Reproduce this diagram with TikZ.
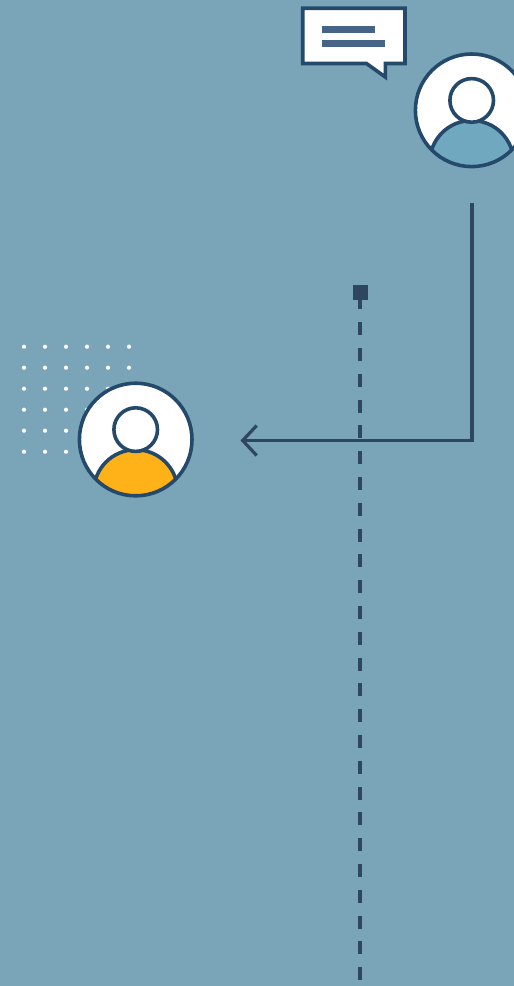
\documentclass[tikz,border=0pt]{standalone}
\usepackage{xcolor}
\usepackage{tikz}
\usetikzlibrary{positioning,arrows.meta}
\definecolor{bgblue}{HTML}{7AA5B9}
\definecolor{ringblue}{HTML}{25496A}
\definecolor{linedark}{HTML}{2F4660}
\definecolor{barblue}{HTML}{466485}
\definecolor{bodyteal}{HTML}{6FA8BF}
\definecolor{bodyyellow}{HTML}{FFB218}
\tikzset{
  ringline/.style={draw=ringblue, line width=3.6pt},
  flowline/.style={draw=linedark, line width=3.2pt},
  squaremark/.style={fill=linedark, minimum size=15pt, inner sep=0pt, outer sep=0pt},
  bubblebar/.style={fill=barblue, draw=none},
}

\begin{document}
\begin{tikzpicture}[x=1pt, y=-1pt]
  % Background
  \fill[bgblue] (0,0) rectangle (514,986);
  \useasboundingbox (0,0) rectangle (514,986);
  \clip (0,0) rectangle (514,986);

  % Dot grid
  \foreach \x in {24,45,66,87,108,129} {
    \foreach \y in {346.7,367.7,388.7,409.7,430.7,451.7} {
      \fill[white] (\x,\y) circle (2.1pt);
    }
  }

  % Avatars
  \foreach \cx/\cy/\bodycol in {471.7/110.3/bodyteal, 135.7/439.5/bodyyellow} {
    \fill[white] (\cx,\cy) circle (56.3pt);
    \begin{scope}
      \clip (\cx,\cy) circle (56.3pt);
      \draw[ringline, fill=\bodycol] (\cx,\cy+52.2) circle (42pt);
    \end{scope}
    \draw[ringline, fill=white] (\cx,\cy-9.9) circle (21.8pt);
    \draw[ringline] (\cx,\cy) circle (56.3pt);
  }

  % Speech bubble
  \draw[ringline, fill=white, miter limit=10]
    (302.7,8.2) -- (405,8.2) -- (405,63.5) -- (385.3,63.5)
    -- (385.3,77) -- (366.5,63.5) -- (302.7,63.5) -- cycle;
  \fill[bubblebar] (322,26) rectangle (375,33);
  \fill[bubblebar] (322,40) rectangle (385,47);

  % Dashed line with square end
  \node[squaremark] (marktop) at (360.5,292.5) {};
  \coordinate (markend) at (360,980);
  \draw[flowline, dash pattern=on 13pt off 12.8pt, dash phase=3.7pt]
    (marktop.south -| markend) -- (markend);

  % Arrow to the yellow avatar
  \coordinate (flowstart) at (472,203);
  \coordinate (flowbend) at (472,440.5);
  \coordinate (flowend) at (240.5,440.5);
  \draw[flowline, -{Straight Barb[length=14pt, width=30pt, line width=3.2pt]}]
    (flowstart) -- (flowbend) -- (flowend);
\end{tikzpicture}
\end{document}
